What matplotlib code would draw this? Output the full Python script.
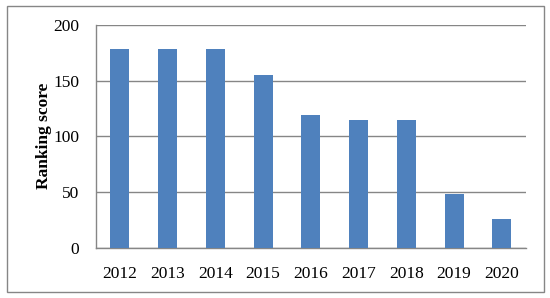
import matplotlib
matplotlib.use("Agg")
import matplotlib.pyplot as plt
from matplotlib.patches import Rectangle

years = ["2012", "2013", "2014", "2015", "2016", "2017", "2018", "2019", "2020"]
scores = [178, 178, 178, 155, 119, 115, 115, 48, 26]
yticks = [0, 50, 100, 150, 200]

plt.rcParams['font.family'] = ['Liberation Serif', 'DejaVu Serif']

fig = plt.figure(figsize=(5.5, 2.98), dpi=100)
ax = fig.add_axes([96/550, 1 - 247.5/298, (525.7-96)/550, (247.5-25)/298])

x = range(len(years))
ax.bar(x, scores, width=0.4, color="#4F81BD", zorder=3)
ax.set_xlim(-0.5, len(years) - 0.5)
ax.set_ylim(0, 200)
ax.set_yticks(yticks)
ax.set_xticks(list(x))
ax.set_xticklabels(years)
ax.yaxis.grid(True, color="#868686", linewidth=1.0, zorder=0)
for s in ["top", "right"]:
    ax.spines[s].set_visible(False)
for s in ["left", "bottom"]:
    ax.spines[s].set_color("#868686")
    ax.spines[s].set_linewidth(1.0)
ax.tick_params(axis="both", length=0, labelsize=12.5, colors="black")
ax.tick_params(axis="y", pad=12)
ax.tick_params(axis="x", pad=13)
ax.set_ylabel("Ranking score", fontsize=12.5, fontweight="bold", labelpad=1)

fig.patches.append(Rectangle((7/550, 1 - 292/298), (544-7)/550, (292-6)/298,
                             transform=fig.transFigure, fill=False,
                             edgecolor="#868686", linewidth=1.0))

fig.savefig("out.png", dpi=100)
